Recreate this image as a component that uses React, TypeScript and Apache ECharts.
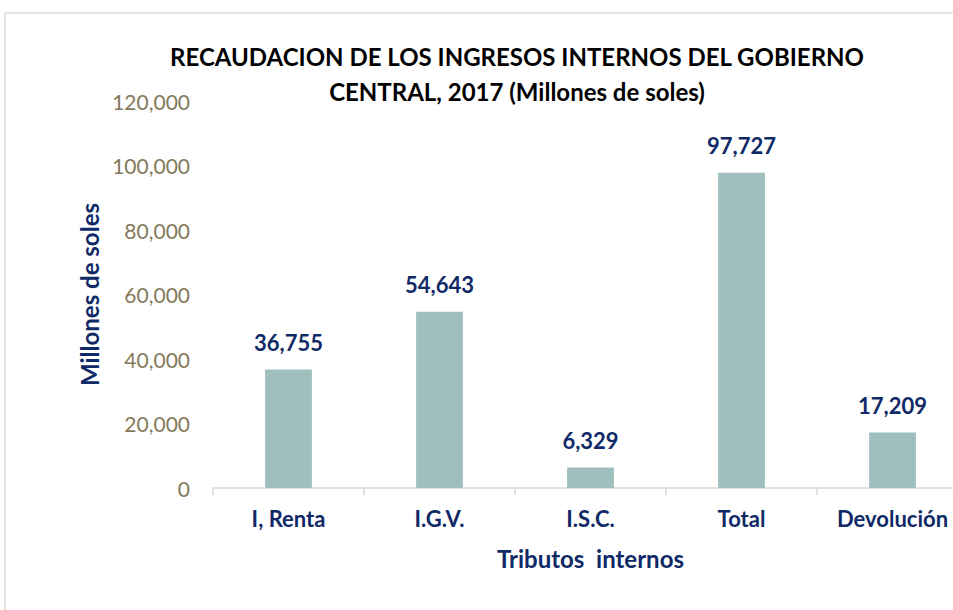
import React, { useEffect, useRef } from "react";
import * as echarts from "echarts";

const categories = ["I, Renta", "I.G.V.", "I.S.C.", "Total", "Devolución"];
const values = [36755, 54643, 6329, 97727, 17209];
const yTicks = [0, 20000, 40000, 60000, 80000, 100000, 120000];

const fmt = (v: number) => v.toLocaleString("en-US");

export default function App() {
  const ref = useRef<HTMLDivElement>(null);
  useEffect(() => {
    if (!ref.current) return;
    const chart = echarts.init(ref.current, undefined, { renderer: "svg" });
    const navy = "#0f2a66";
    chart.setOption({
      animation: false,
      backgroundColor: "#ffffff",
      graphic: [
        {
          type: "rect",
          shape: { x: 5, y: 13, width: 2000, height: 2000 },
          style: { fill: "none", stroke: "#dedbd3", lineWidth: 1.5 },
          silent: true,
        },
      ],
      title: {
        text: "RECAUDACION DE LOS INGRESOS INTERNOS DEL GOBIERNO\nCENTRAL, 2017 (Millones de soles)",
        left: 512,
        top: 34,
        textAlign: "center",
        textStyle: {
          fontFamily: "Lato",
          fontWeight: "bold",
          fontSize: 24,
          lineHeight: 35,
          color: "#000000",
        },
      },
      grid: { left: 213, right: 32, top: 101, bottom: 610 - 488, containLabel: false },
      xAxis: {
        type: "category",
        data: categories,
        name: "Tributos  internos",
        nameLocation: "middle",
        nameGap: 58,
        nameTextStyle: { fontFamily: "Lato", fontWeight: "bold", fontSize: 24, color: navy },
        axisLine: { show: true, lineStyle: { color: "#dcd9d2", width: 1.5 } },
        axisTick: { show: true, length: 7, lineStyle: { color: "#dcd9d2", width: 1.5 } },
        axisLabel: {
          fontFamily: "Lato",
          fontWeight: "bold",
          fontSize: 22,
          color: navy,
          margin: 19,
        },
      },
      yAxis: {
        type: "value",
        min: 0,
        max: 120000,
        interval: 20000,
        name: "Millones de soles",
        nameLocation: "middle",
        nameGap: 112,
        nameRotate: 90,
        nameTextStyle: { fontFamily: "Lato", fontWeight: "bold", fontSize: 24, color: navy },
        axisLine: { show: false },
        axisTick: { show: false },
        splitLine: { show: false },
        axisLabel: {
          fontFamily: "Lato",
          fontSize: 21,
          color: "#857a5a",
          margin: 23,
          formatter: (v: number) => (yTicks.includes(v) ? fmt(v) : ""),
        },
      },
      series: [
        {
          type: "bar",
          data: values,
          barWidth: "31%",
          itemStyle: { color: "#9ebfbd" },
          label: {
            show: true,
            position: "top",
            distance: 16,
            fontFamily: "Lato",
            fontWeight: "bold",
            fontSize: 22,
            color: navy,
            formatter: (p: any) => fmt(p.value),
          },
        },
      ],
    });
    return () => chart.dispose();
  }, []);
  return (
    <div style={{ position: "fixed", left: 0, top: 0, width: 953, height: 610, overflow: "hidden", background: "#fff" }}>
      <div ref={ref} style={{ width: 1000, height: 610 }} />
    </div>
  );
}
